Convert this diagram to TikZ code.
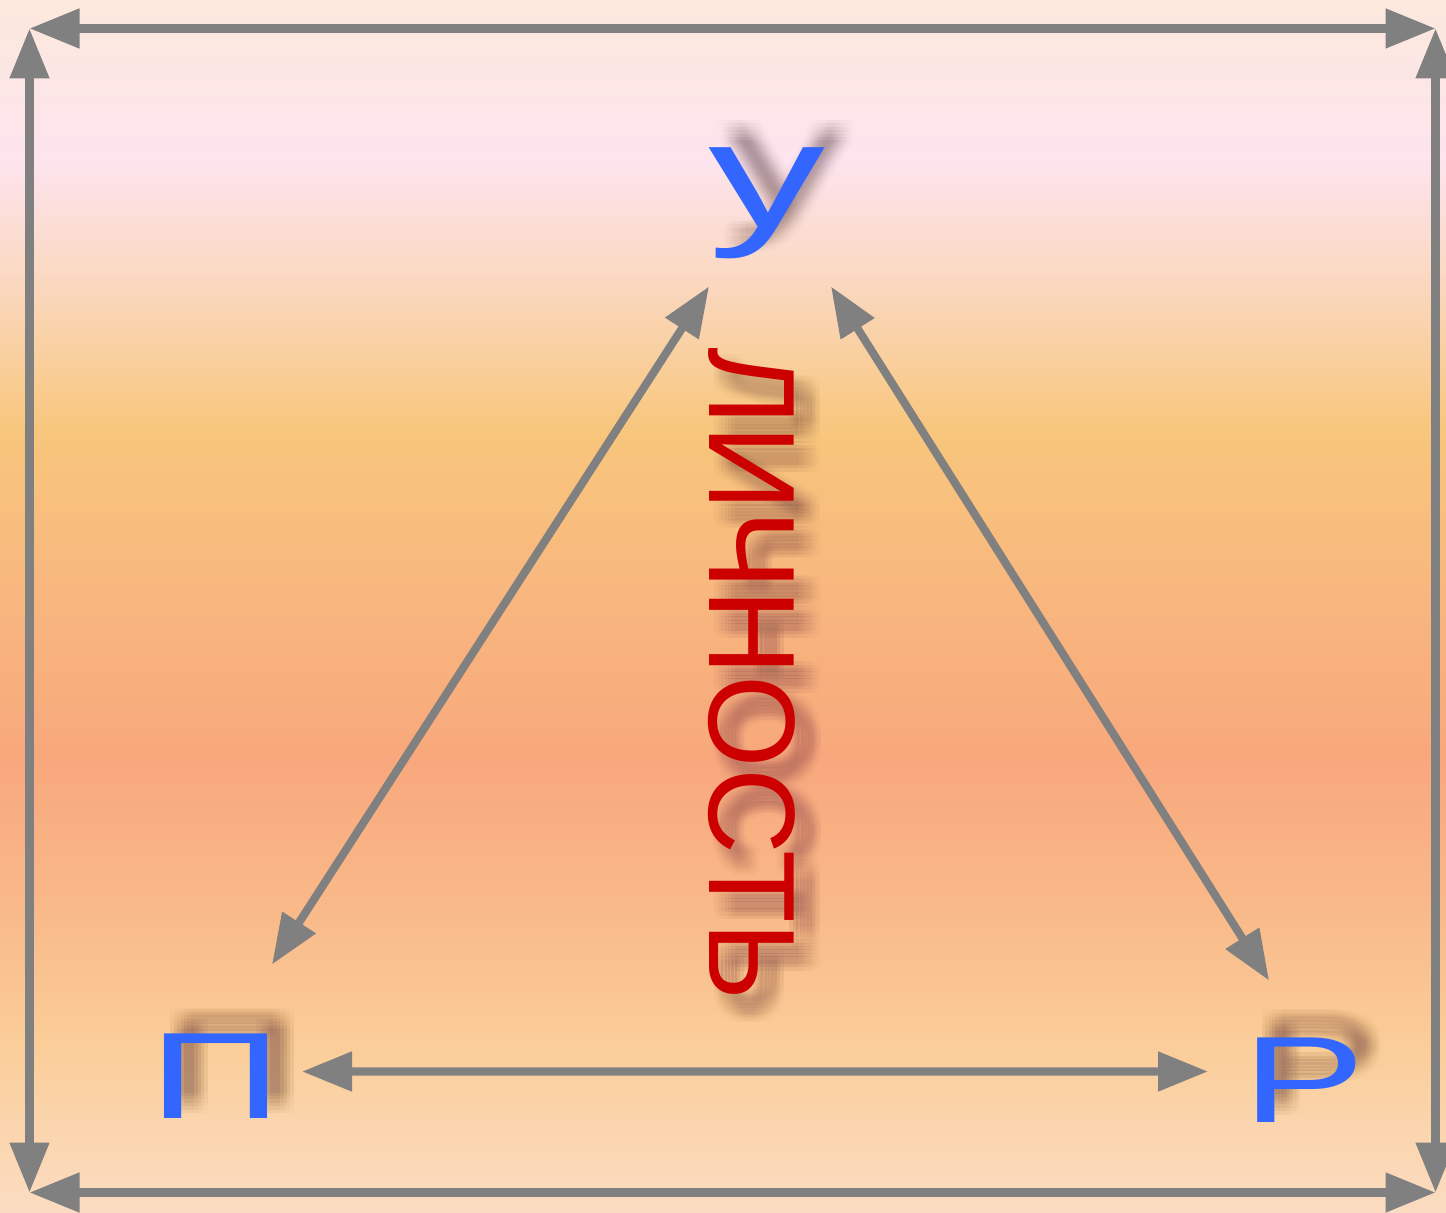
\documentclass[tikz,border=0pt]{standalone}
\usepackage{fontspec}
\setmainfont{Liberation Sans}
\usetikzlibrary{arrows.meta}

\definecolor{bgtop}{HTML}{FCE8DC}
\definecolor{bgpink}{HTML}{FDE4EE}
\definecolor{bgpeach}{HTML}{FAD6B8}
\definecolor{bgorange}{HTML}{F8C67C}
\definecolor{bgmid}{HTML}{F8B67E}
\definecolor{bgsalmon}{HTML}{F8A87C}
\definecolor{bglow}{HTML}{F9B888}
\definecolor{bgsand}{HTML}{FACE9A}
\definecolor{bgbottom}{HTML}{FBDCC2}
\definecolor{arrowgray}{HTML}{808080}
\definecolor{letterblue}{HTML}{3366FF}
\definecolor{wordred}{HTML}{CC0000}

\begin{document}
\begin{tikzpicture}[
    twoway/.style={
      {Triangle[length=5mm,width=3.8mm]}-{Triangle[length=5mm,width=3.8mm]},
      draw=arrowgray,
      line width=2.3pt
    },
    letter/.style={font=\fontsize{35}{40}\selectfont, text=letterblue, inner sep=0pt, xscale=1.5},
    smallletter/.style={font=\fontsize{43}{48}\selectfont, text=letterblue, inner sep=0pt, xscale=1.55},
    word/.style={font=\fontsize{35}{40}\selectfont, text=wordred, inner sep=0pt, rotate=-90, xscale=.967},
    blurcopy/.style={text=black, text opacity=.007, inner sep=0pt}
  ]
    % background
    \foreach \ytop/\ybot/\ctop/\cbot in {
        12.11/10.51/bgtop/bgpink, 10.51/9.11/bgpink/bgpeach,
        9.11/7.81/bgpeach/bgorange, 7.81/6.11/bgorange/bgmid,
        6.11/4.51/bgmid/bgsalmon, 4.51/3.11/bgsalmon/bglow,
        3.11/1.61/bglow/bgsand, 1.61/0/bgsand/bgbottom}
      \shade[top color=\ctop, bottom color=\cbot] (0,\ybot-0.005) rectangle (14.46,\ytop+0.005);
    \useasboundingbox (0,0) rectangle (14.46,12.11);

    % shadows
    \foreach \i in {-3,...,3}
      \foreach \j in {-3,...,3} {
        \node[smallletter, blurcopy] (shU\i\j) at (7.865+0.034*\i,10.25+0.034*\j) {у};
        \node[letter, blurcopy] (shP\i\j) at (2.325+0.034*\i,1.505+0.034*\j) {П};
        \node[letter, blurcopy] (shR\i\j) at (13.19+0.034*\i,1.49+0.034*\j) {Р};
        \node[word, blurcopy] (shW\i\j) at (7.675+0.034*\i,5.205+0.034*\j) {ЛИЧНОСТЬ};
      }

    % letters
    \node[smallletter] (U) at (7.675,10.08) {у};
    \node[letter] (P) at (2.155,1.355) {П};
    \node[letter] (R) at (13.045,1.315) {Р};
    \node[word] (lichnost) at (7.515,5.375) {ЛИЧНОСТЬ};

    % frame
    \coordinate (tl) at (0.295,11.83);
    \coordinate (tr) at (14.355,11.83);
    \coordinate (bl) at (0.295,0.19);
    \coordinate (br) at (14.355,0.19);
    \draw[twoway] (tl) -- (tr);
    \draw[twoway] (bl) -- (br);
    \draw[twoway] (bl) -- (tl);
    \draw[twoway] (br) -- (tr);

    % triangle
    \draw[twoway] ([shift={(0.565,1.115)}]P.center) -- ([shift={(-0.585,-0.83)}]U.center);
    \draw[twoway] ([shift={(0.635,-0.83)}]U.center) -- ([shift={(-0.355,0.995)}]R.center);
    \draw[twoway] ([shift={(0.865,0.045)}]P.center) -- ([shift={(-0.965,0.085)}]R.center);
  \end{tikzpicture}
\end{document}
